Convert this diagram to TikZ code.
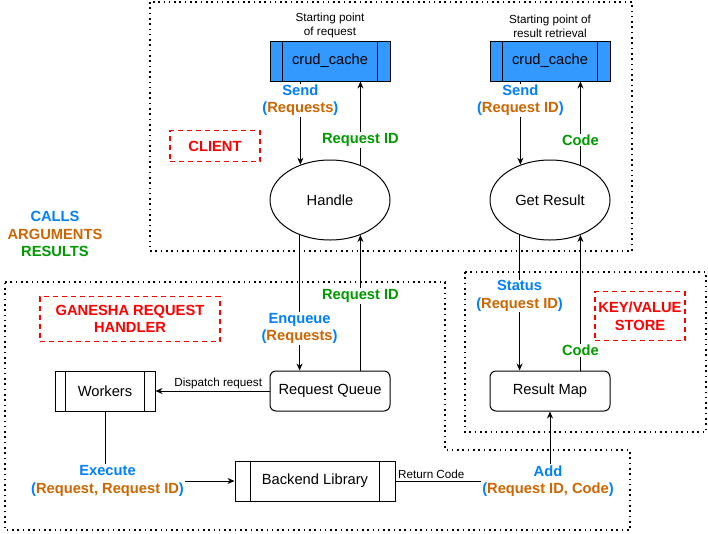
\documentclass[tikz,border=0pt]{standalone}
\usepackage{fontspec}
\setmainfont{Liberation Sans}
\usepackage{xcolor}
\usetikzlibrary{arrows.meta,shapes.geometric}

\definecolor{callblue}{RGB}{0,127,255}
\definecolor{argorange}{RGB}{204,102,0}
\definecolor{resgreen}{RGB}{0,153,0}
\definecolor{cachefill}{RGB}{51,153,255}

\tikzset{
  big/.style={font=\fontsize{14.7}{17.6}\selectfont},
  small/.style={font=\fontsize{11.7}{14}\selectfont},
  proc/.style={draw, big, minimum height=40, inner sep=0pt},
  oval/.style={draw, ellipse, big, minimum width=120, minimum height=80, inner sep=0pt},
  store/.style={draw, rounded corners=6, big, minimum width=120, minimum height=40, inner sep=0pt},
  lbl/.style={font=\fontsize{14.7}{17.6}\selectfont\bfseries, fill=white, align=center, inner sep=1pt},
  tag/.style={draw=red, line width=1.6pt, dash pattern=on 5pt off 4pt, fill=white, text=red,
    font=\fontsize{14.7}{17.6}\selectfont\bfseries, align=center, inner sep=0pt},
  zone/.style={line width=1.6pt, dash pattern=on 1.6pt off 3.7pt},
  arr/.style={-{Stealth[length=7pt,width=6pt]}}
}

\begin{document}
\begin{tikzpicture}[x=1pt,y=1pt,yscale=-1,xscale=1,line width=1pt]
\useasboundingbox (0,0) rectangle (708,533);
%Zones
\draw[zone] (150,2) rectangle (632,251);
\draw[zone] (5,282) -- (445,282) -- (445,450) -- (630,450) -- (630,530) -- (5,530) -- cycle;
\draw[zone] (465,272) rectangle (706,432);
%Shapes
\node[proc, fill=cachefill, minimum width=120] (crud1) at (330,61) {crud\_cache};
\node[proc, fill=cachefill, minimum width=120] (crud2) at (550,61) {crud\_cache};
\node[oval] (handle) at (330,200) {Handle};
\node[oval] (getres) at (550,200) {Get Result};
\node[store] (rq) at (330,391) {Request Queue};
\node[store] (rmap) at (550,391) {Result Map};
\node[proc, minimum width=100] (workers) at (105,391) {Workers};
\node[proc, minimum width=160] (backend) at (315,481) {Backend Library};
\foreach \n/\d in {crud1/12.7, crud2/12.7, workers/10.7, backend/15.7}
{
  \draw ([xshift=\d]\n.north west) -- ([xshift=\d]\n.south west);
  \draw ([xshift=-\d]\n.north east) -- ([xshift=-\d]\n.south east);
}
% Text Node
\node[small, align=center, anchor=south, inner sep=2pt] (start1) at (crud1.north) {Starting point\\of request};
\node[small, align=center, anchor=south, inner sep=2pt] (start2) at (crud2.north) {Starting point of\\result retrieval};
% Text Node
\node[tag, minimum width=90, minimum height=31] (client) at (215,146) {CLIENT};
\node[tag, minimum width=180, minimum height=45] (ganesha) at (130,319) {GANESHA REQUEST\\HANDLER};
\node[tag, minimum width=90, minimum height=49] (kvstore) at (640,316) {KEY/VALUE\\STORE};
\node[lbl, fill=none] (legend) at (55,234) {\textcolor{callblue}{CALLS}\\\textcolor{argorange}{ARGUMENTS}\\\textcolor{resgreen}{RESULTS}};
% Text Node
\node[lbl, text=callblue] (exec) at (107.5,481) {Execute\\(\textcolor{argorange}{Request, Request ID})};
\node[lbl, text=callblue] (add) at (548,481) {Add\\(\textcolor{argorange}{Request ID, Code})};
%Client arrows
\draw[arr] (crud1.south -| handle.130.9) -- node[lbl, text=callblue, pos=0.225] {Send\\(\textcolor{argorange}{Requests})} (handle.130.9);
\draw[arr] (handle.49.1) -- node[lbl, text=resgreen, pos=0.3] {Request ID} (crud1.south -| handle.49.1);
\draw[arr] (crud2.south -| getres.130.9) -- node[lbl, text=callblue, pos=0.225] {Send\\(\textcolor{argorange}{Request ID})} (getres.130.9);
\draw[arr] (getres.49.1) -- node[lbl, text=resgreen, pos=0.3] {Code} (crud2.south -| getres.49.1);
%Handler arrows
\draw[arr] (handle.229.1) -- node[lbl, text=callblue, pos=0.69] {Enqueue\\(\textcolor{argorange}{Requests})} (rq.north -| handle.229.1);
\draw[arr] (rq.north -| handle.-49.1) -- node[lbl, text=resgreen, pos=0.55] {Request ID} (handle.-49.1);
\draw[arr] (getres.229.1) -- node[lbl, text=callblue, pos=0.45] {Status\\(\textcolor{argorange}{Request ID})} (rmap.north -| getres.229.1);
\draw[arr] (rmap.north -| getres.-49.1) -- node[lbl, text=resgreen, pos=0.147] {Code} (getres.-49.1);
\draw[arr] (rq.west) -- node[small, above, pos=0.45, inner sep=2pt] {Dispatch request} (workers.east);
\draw (workers.south) -- (workers.south |- exec.north);
\draw[arr] (exec.east) -- (backend.west);
\draw (backend.east) -- node[small, above, pos=0.42, inner sep=2pt] {Return Code} (add.west);
\draw[arr] (add.north -| rmap.south) -- (rmap.south);
\end{tikzpicture}
\end{document}
